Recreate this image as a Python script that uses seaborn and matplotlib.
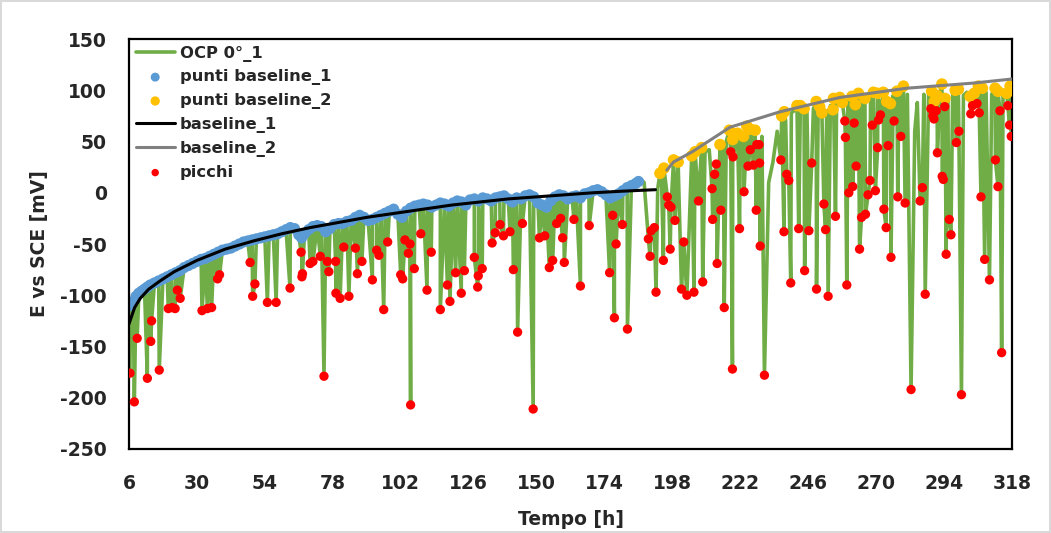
import pandas as pd
import matplotlib.pyplot as plt
import seaborn as sns

# blue points: punti baseline_1 (t [h], E [mV])
b1_t = [6.5, 7.5, 8.5, 9.5, 10.5, 11.5, 12.5, 13.5, 15, 16.5, 18, 19.5, 21, 22.5, 24, 25.5, 27, 28.5,
        30, 31.5, 33, 34.5, 36, 37.5, 39, 40.5, 42, 43.5, 45, 46.5, 48, 49.5, 51, 52.5, 54, 55.5, 57,
        58.5, 60, 61.5, 63, 64.5, 66, 67, 68, 69.5, 71, 72.5, 74, 75.5, 77, 78.5, 80, 81.5, 83, 84.5,
        86, 87.5, 89, 90.5, 92, 93.5, 95, 96.5, 98, 99.5, 101, 102.5, 104, 105.5, 107, 108.5, 110,
        111.5, 113, 114.5, 116, 117.5, 119, 120.5, 122, 123.5, 125, 126.5, 128, 129.5, 131, 132.5,
        134, 135.5, 137, 138.5, 140, 141.5, 143, 144.5, 146, 147.5, 149, 150.5, 152, 153.5, 155,
        156.5, 158, 159.5, 161, 162.5, 164, 165.5, 167, 168.5, 170, 171.5, 173, 174.5, 176, 177.5,
        179, 180.5, 182, 183.5, 185, 186]
b1_v = [-110, -106, -101, -98, -96, -94, -92, -90, -88, -86, -84, -82, -80, -78, -76, -73, -71, -69,
        -67, -65, -64, -62, -60, -58, -56, -55, -54, -52, -50, -48, -47, -46, -45, -44, -43, -42, -41,
        -40, -38, -36, -34, -35, -41, -44, -40, -36, -33, -32, -33, -38, -35, -31, -30, -30, -28, -27,
        -24, -22, -24, -27, -26, -24, -22, -20, -18, -16, -21, -24, -18, -15, -13, -12, -11,
        -12, -14, -12, -10, -11, -13, -10, -8, -9, -12, -7, -6, -8, -5, -6,
        -8, -5, -4, -3, -6, -9, -5, -6, -3, -2, -4, -10, -12, -14, -8,
        -4, -2, -3, -6, -4, -3, -5, -1, 0, 2, 3, 1, -2, -5, -3,
        -1, 2, 5, 7, 9, 11]

# yellow points: punti baseline_2
b2_t = [193.6, 195, 198.4, 200, 204.8, 206, 208.3, 214.8, 218.1, 219.3, 221, 223.1, 224.3, 225.5,
        227.2, 236.6, 237.5, 242, 243.2, 244.5, 248.8, 250, 250.8, 254.7, 254.9, 257.1, 258, 261.4,
        262.6, 263.7, 266, 269, 270.5, 272.5, 273.7, 275, 277.3, 279.6, 289.6, 290.5, 291.5, 293.2,
        294.3, 297.9, 299, 303.2, 304.6, 306.1, 307.5, 312, 313, 316.1, 317.3]
b2_v = [19, 24, 32, 30, 36, 40, 44, 47, 61, 52, 58, 55, 65, 62,
        61, 75, 79, 85, 85, 82, 89, 84, 78, 81, 92, 93, 88, 94,
        86, 97, 92, 98, 97, 98, 89, 87, 99, 104, 99, 89, 95, 106,
        92, 100, 101, 94, 97, 104, 102, 102, 99, 97, 104]

# baseline curves
bl1_t = [6, 8, 10, 13, 17, 22, 30, 40, 50, 60, 70, 80, 90, 100, 110, 120, 130, 140, 150, 160, 170, 180, 192]
bl1_v = [-128, -112, -103, -94, -86, -77, -66, -55, -47, -40, -34, -29, -24, -20, -16, -12, -9, -6, -4, -2, 0, 1.5, 3]
bl2_t = [196, 198.4, 205, 218.4, 236, 257.2, 280.8, 304.3, 318]
bl2_v = [22, 30, 40, 64, 79, 93, 102, 107, 111]

# red points: picchi
pk_t = [6.35, 7.9, 8.9, 12.5, 13.7, 14.0, 16.7, 19.9, 21.3, 22.3, 23.1, 24.1, 31.8, 33.7, 35.2, 37.3,
        38.0, 48.8, 49.7, 50.5, 54.9, 58.0, 62.9, 66.8, 67.1, 67.3, 70, 71, 73.6, 74.9, 76.1, 76.6,
        79.0, 79.1, 80.6, 81.9, 83.7, 86, 86.7, 88.3, 92, 93.5, 94.3, 96, 97.4,
        102, 102.7, 103.5, 104.7, 105.3, 105.5, 106.8, 109.1, 111.3, 112.8, 116, 118.5, 119.4, 121.4,
        123.4, 124.5, 128, 129.2, 129.4, 130.8, 134.3, 135.4, 137.1, 138.3, 140.6, 141.8, 143.3, 145,
        148.8, 151, 152.9, 154.5, 155.7, 157.1, 158.5, 159.2, 159.8, 163.2, 165.5, 168.6, 175.8, 176.9,
        177.5, 178.1, 180.3, 182.1,
        189.5, 190.5, 191.6, 190.1, 192.2, 194.8, 196.2, 196.7, 197.5, 197.2, 198.9, 201.2, 202, 203.1,
        205.6, 207.2, 208.7, 212, 212.2, 212.9, 213.5, 213.8, 215.1, 216.3, 218.6, 219.2, 219.4, 221.7,
        223.3, 224.7, 225.5, 226.6, 227.6, 227.8, 228.6, 228.8, 229, 230.5, 236.3, 237.4, 238.4, 239.1,
        239.8, 242.6, 244.7, 246.2, 247.2, 248.9, 251.5, 252.1, 253, 255.6, 258.9, 259.1, 259.6, 260.3,
        261.7, 262.2, 262.9, 264.1, 264.8, 266.2, 267.1, 267.8, 268.6, 269.7, 270.5, 270.8, 271.5, 272.7,
        273.5, 274.2, 275.2, 276.3, 277.6, 278.7, 280.2, 282.3, 285.5, 286.3, 287.3, 289.3, 290, 290.4,
        291.2, 291.6, 293.3, 293.7, 294.2, 294.7, 295.8, 296.4, 298.3, 299.2, 300.1, 303.4, 304, 305.6,
        306.4, 307, 308.3, 310, 312.1, 313, 313.7, 314.3, 316.5, 317.1, 317.7]
pk_v = [-176, -204, -142, -181, -145, -125, -173, -113, -112, -113, -95, -103, -115, -113, -112, -84,
        -80, -68, -101, -89, -107, -107, -93, -58, -82, -79, -69, -67, -62, -179, -67, -77,
        -67, -98, -103, -53, -101, -54, -79, -67, -85, -56, -61, -114, -48,
        -80, -84, -46, -59, -50, -207, -74, -40, -95, -58, -114, -90, -106, -78,
        -98, -76, -63, -92, -81, -74, -49, -39, -31, -42, -38, -75, -136, -30,
        -211, -44, -42, -73, -66, -30, -25, -44, -68, -26, -91, -32, -78, -22,
        -122, -50, -31, -133,
        -45, -37, -34, -62, -97, -66, -4, -12, -14, -55, -27, -94, -48, -100,
        -97, -8, -87, 4, -26, 18, 28, -69, -17, -112, 40, -172, 35, -35,
        1, 26, 42, 27, -17, 47, 47, 29, -52, -178, 32, -38, 18, 12,
        -88, -35, -76, -37, 29, -94, -11, -36, -101, -23, 70, 54, -90, 0,
        6, 68, 26, -55, -24, -21, -2, 12, 66, 2, 44, 71, 76, -16,
        -34, 46, -63, 70, -4, 55, -10, -192, -8, 5, -99, 82, 75, 72,
        80, 39, 16, 13, 84, -60, -26, -41, 49, 60, -197, 77, 85, 87,
        78, -4, -65, -85, 32, 6, 80, -156, 85, 66, 55]

# extra OCP points where there is neither a baseline point nor a peak
ex_t = [186.5, 188, 192.8, 194.2, 209.5, 211, 216, 217, 222, 226, 229.6, 232, 233.5, 235, 238, 240,
        241, 245.5, 247.8, 249.5, 252.5, 253.8, 256, 260, 265, 268, 271, 276, 278, 281, 283.6, 284.5,
        286.8, 288.5, 292.5, 295.2, 297, 300.8, 302, 305, 308.8, 310.8, 311.5, 314.8, 315.5]
ex_v = [14, 10, 4, 8, 40, 42, 48, 50, 52, 58, 55, 10, 30, 60, 70, 78,
        80, 84, 82, 86, 80, 85, 88, 90, 93, 94, 90, 95, 98, 96, 60, 88,
        96, 98, 97, 92, 97, 95, 98, 100, 98, 96, 100, 100, 98]

ocp = pd.concat([
    pd.DataFrame({"t": b1_t, "E": b1_v}),
    pd.DataFrame({"t": b2_t, "E": b2_v}),
    pd.DataFrame({"t": pk_t, "E": pk_v}),
    pd.DataFrame({"t": ex_t, "E": ex_v}),
]).sort_values("t")

sns.set_style("white")
plt.rcParams["font.family"] = ["DejaVu Sans"]
plt.rcParams["font.weight"] = "bold"
plt.rcParams["axes.unicode_minus"] = False

fig = plt.figure(figsize=(10.51, 5.33), dpi=100)
ax = fig.add_axes([0.1227, 0.1576, 0.8403, 0.7692])
fig.patch.set_edgecolor("#d9d9d9")
fig.patch.set_linewidth(1.5)

sns.lineplot(data=ocp, x="t", y="E", sort=False, estimator=None, color="#70AD47", lw=2.6,
             label="OCP 0°_1", ax=ax, zorder=1)
ax.scatter(b1_t, b1_v, s=65, color="#5B9BD5", edgecolor="none", label="punti baseline_1", zorder=2)
ax.scatter(b2_t, b2_v, s=70, color="#FFC000", edgecolor="none", label="punti baseline_2", zorder=3)
sns.lineplot(x=bl1_t, y=bl1_v, color="black", lw=2.2, label="baseline_1", ax=ax, zorder=4)
sns.lineplot(x=bl2_t, y=bl2_v, color="#808080", lw=2.2, label="baseline_2", ax=ax, zorder=5)
sns.scatterplot(x=pk_t, y=pk_v, s=45, color="#FF0000", edgecolor="none", label="picchi", ax=ax, zorder=6)

ax.set_xlim(6, 318)
ax.set_ylim(-250, 150)
ax.set_xticks(range(6, 319, 24))
ax.set_yticks(range(-250, 151, 50))
ax.tick_params(direction="out", width=1.5, color="black", labelsize=13.5)
ax.tick_params(axis="y", length=7, pad=9)
ax.tick_params(axis="x", length=5, pad=13)
for lab in ax.get_xticklabels() + ax.get_yticklabels():
    lab.set_fontweight("bold")
for sp in ax.spines.values():
    sp.set_color("black")
    sp.set_linewidth(1.6)
ax.set_xlabel("Tempo [h]", fontsize=13.5, fontweight="bold", labelpad=12)
ax.set_ylabel("E vs SCE [mV]", fontsize=13.5, fontweight="bold", labelpad=8)

leg = ax.legend(loc="upper left", bbox_to_anchor=(0.0, 1.0), frameon=False, fontsize=11.8,
                handlelength=2.4, handletextpad=0.3, labelspacing=0.48, borderaxespad=0.1,
                borderpad=0.3, markerscale=0.8)
for txt in leg.get_texts():
    txt.set_fontweight("bold")

fig.savefig("out.png", dpi=100)
